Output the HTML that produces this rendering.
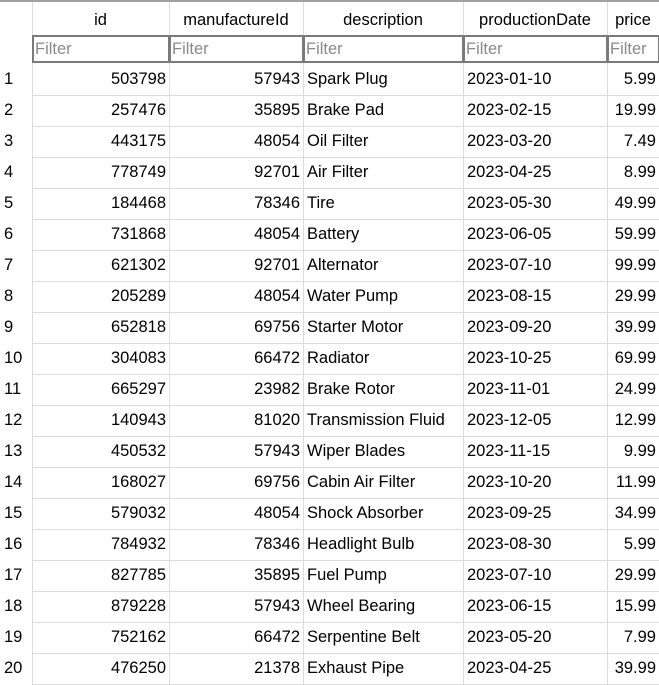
<!DOCTYPE html>
<html><head><meta charset="utf-8"><style>
body{margin:0;width:659px;height:682px;overflow:hidden;background:#fff;font-family:"Liberation Sans",sans-serif;font-size:16.5px;color:#000}
#t{position:absolute;left:0;top:0;width:659px;height:682px;border-top:2px solid #a0a0a0;box-sizing:border-box}
.c{position:absolute;box-sizing:border-box;white-space:nowrap;overflow:hidden;line-height:31px}
.h{text-align:center;line-height:36px}
.f{position:absolute;box-sizing:border-box;border:2px solid #7a7a7a;color:#8a8a8a;padding-left:1px;line-height:24px;height:28px;top:33px;font-size:16.5px;overflow:hidden}
.vl{position:absolute;top:0;width:1px;height:682px;background:#dcdcdc}
.hl{position:absolute;left:32px;width:627px;height:1px;background:#dcdcdc}
</style></head><body>
<div id="t"></div>
<script>
const ids=[503798,257476,443175,778749,184468,731868,621302,205289,652818,304083,665297,140943,450532,168027,579032,784932,827785,879228,752162,476250];
const mids=[57943,35895,48054,92701,78346,48054,92701,48054,69756,66472,23982,81020,57943,69756,48054,78346,35895,57943,66472,21378];
const descs=["Spark Plug","Brake Pad","Oil Filter","Air Filter","Tire","Battery","Alternator","Water Pump","Starter Motor","Radiator","Brake Rotor","Transmission Fluid","Wiper Blades","Cabin Air Filter","Shock Absorber","Headlight Bulb","Fuel Pump","Wheel Bearing","Serpentine Belt","Exhaust Pipe"];
const dates=["2023-01-10","2023-02-15","2023-03-20","2023-04-25","2023-05-30","2023-06-05","2023-07-10","2023-08-15","2023-09-20","2023-10-25","2023-11-01","2023-12-05","2023-11-15","2023-10-20","2023-09-25","2023-08-30","2023-07-10","2023-06-15","2023-05-20","2023-04-25"];
const prices=["5.99","19.99","7.49","8.99","49.99","59.99","99.99","29.99","39.99","69.99","24.99","12.99","9.99","11.99","34.99","5.99","29.99","15.99","7.99","39.99"];
const headers=["id","manufactureId","description","productionDate","price"];
const t=document.getElementById('t');
const cols=[[32,169],[169,303],[303,463],[463,607],[607,659]];
const align=['right','right','left','left','right'];
[32,169,303,463,607].forEach(x=>{const v=document.createElement('div');v.className='vl';v.style.left=x+'px';t.appendChild(v);});
headers.forEach((h,i)=>{
 const d=document.createElement('div');d.className='c h';
 
 
 d.style.left=cols[i][0]+'px';d.style.width=(cols[i][1]-cols[i][0])+'px';d.style.top='0px';d.textContent=h;t.appendChild(d);
 const f=document.createElement('div');f.className='f';
 
 
 f.style.left=cols[i][0]+'px';f.style.width=(cols[i][1]-cols[i][0]+1)+'px';f.textContent='Filter';t.appendChild(f);
});
for(let r=0;r<20;r++){
 const top=62+r*31;
 const l=document.createElement('div');l.className='hl';l.style.top=(top+31)+'px';t.appendChild(l);
 const n=document.createElement('div');n.className='c';
 
 
 n.style.left='4px';n.style.top=top+'px';n.textContent=r+1;t.appendChild(n);
 const vals=[ids[r],mids[r],descs[r],dates[r],prices[r]];
 vals.forEach((v,i)=>{
  const d=document.createElement('div');d.className='c';
  
  
  d.style.left=(cols[i][0]+4)+'px';d.style.width=(cols[i][1]-cols[i][0]-7)+'px';
  d.style.top=top+'px';d.style.textAlign=align[i];d.textContent=v;t.appendChild(d);
 });
}
</script>
</body></html>
